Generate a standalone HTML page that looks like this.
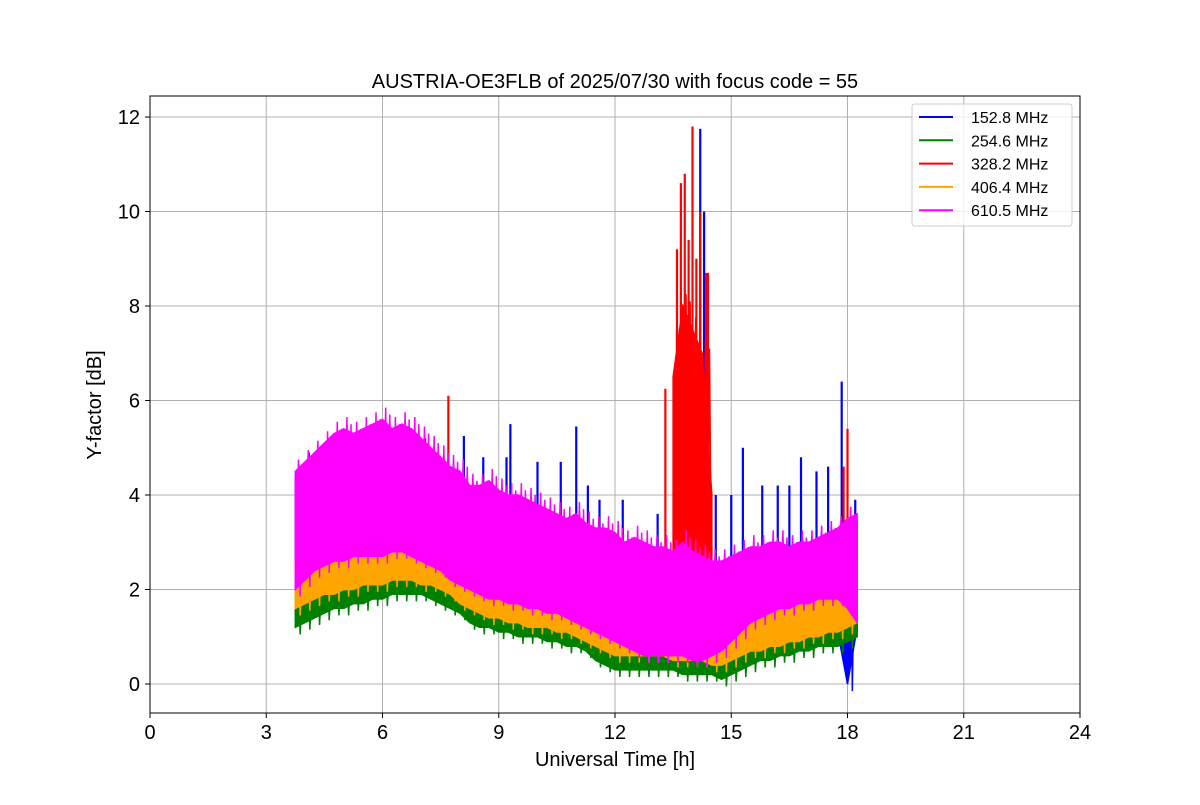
<!DOCTYPE html>
<html><head><meta charset="utf-8">
<style>
body{margin:0;background:#fff;}
svg text{font-family:"Liberation Sans","DejaVu Sans",sans-serif;}
</style></head>
<body>
<svg id="chart" width="1200" height="800" xmlns="http://www.w3.org/2000/svg">
<rect width="1200" height="800" fill="#fff"/>
<g id="grid"></g>
<g id="marks"></g>
<rect x="150" y="96" width="930" height="617" fill="none" stroke="#000" stroke-width="1"/>
<g id="axes"></g>
<text x="615" y="88" font-size="20" text-anchor="middle">AUSTRIA-OE3FLB of 2025/07/30 with focus code = 55</text>
<text x="615" y="766" font-size="20" text-anchor="middle">Universal Time [h]</text>
<text transform="translate(101,405) rotate(-90)" font-size="20" text-anchor="middle">Y-factor [dB]</text>
<g id="legend"></g>
</svg>
<script>
const xTicks=[0,3,6,9,12,15,18,21,24];
const yTicks=[0,2,4,6,8,10,12];
const t0=3.75, dt=0.25;
const seriesNames=["152.8 MHz","254.6 MHz","328.2 MHz","406.4 MHz","610.5 MHz"];
const seriesColors=["#0000ff","#008000","#ff0000","#ffa500","#ff00ff"];
const blueLo=[1.5,1.7,1.8,1.9,1.9,2.0,2.0,2.1,2.1,2.1,2.2,2.2,2.2,2.1,2.1,2.0,1.9,1.7,1.6,1.5,1.4,1.4,1.3,1.3,1.2,1.2,1.2,1.1,1.1,1.0,0.9,0.8,0.7,0.6,0.6,0.6,0.6,0.6,0.6,0.5,0.5,0.5,0.5,0.4,0.4,0.5,0.6,0.7,0.7,0.8,0.8,0.9,0.9,1.0,1.0,1.1,1.1,0.0,1.2];
const blueHi=[4.4,4.5,4.7,4.9,5.1,5.2,5.1,5.2,5.3,5.4,5.2,5.3,5.2,5.0,4.8,4.6,4.4,4.3,4.0,4.0,4.1,3.9,3.8,3.8,3.7,3.6,3.5,3.4,3.3,3.4,3.2,3.1,3.1,3.0,2.8,2.9,2.8,2.7,2.7,2.6,2.8,2.6,2.5,2.4,2.4,2.5,2.6,2.7,2.7,2.8,2.8,2.7,2.8,2.8,2.9,3.0,3.1,3.3,3.4];
const blueSpikeT=[4.1,7.1,8.1,8.6,9.2,9.3,10.0,10.6,11.0,11.3,11.6,12.2,13.1,13.6,13.8,14.2,14.3,14.6,15.0,15.3,15.8,16.2,16.5,16.8,17.2,17.5,17.85,18.2];
const blueSpikeV=[4.9,5.2,5.25,4.8,4.8,5.5,4.7,4.7,5.45,4.2,3.9,3.9,3.6,7.5,8.0,11.75,10.0,4.0,4.0,5.0,4.2,4.2,4.2,4.8,4.5,4.6,6.4,3.9];
const greenLo=[1.2,1.3,1.4,1.5,1.6,1.6,1.7,1.7,1.8,1.8,1.9,1.9,1.9,1.9,1.8,1.7,1.6,1.5,1.3,1.2,1.2,1.1,1.1,1.0,1.0,1.0,0.9,0.9,0.8,0.8,0.7,0.5,0.4,0.3,0.3,0.3,0.3,0.3,0.3,0.3,0.2,0.2,0.2,0.2,0.1,0.2,0.3,0.4,0.5,0.5,0.6,0.6,0.7,0.7,0.8,0.8,0.8,0.9,1.0];
const greenHi=[1.9,2.0,2.1,2.2,2.2,2.3,2.3,2.4,2.4,2.4,2.5,2.5,2.5,2.4,2.4,2.3,2.2,2.0,1.9,1.8,1.7,1.7,1.6,1.6,1.5,1.5,1.5,1.4,1.4,1.3,1.2,1.1,1.0,0.9,0.9,0.9,0.9,0.9,0.9,0.8,0.8,0.8,0.8,0.7,0.7,0.8,0.9,1.0,1.0,1.1,1.1,1.2,1.2,1.3,1.3,1.4,1.4,1.5,1.6];
const redLo=[null,null,null,null,null,null,null,null,null,null,null,null,null,null,null,null,null,null,null,null,null,null,null,null,null,null,null,null,null,null,null,null,null,null,null,null,null,null,null,1.0,0.8,0.8,0.9,1.2,null,null,null,null,null,null,null,null,null,null,null,null,null,null,null];
const redHi=[null,null,null,null,null,null,null,null,null,null,null,null,null,null,null,null,null,null,null,null,null,null,null,null,null,null,null,null,null,null,null,null,null,null,null,null,null,null,null,6.5,8.0,7.5,7.0,4.0,null,null,null,null,null,null,null,null,null,null,null,null,null,null,null];
const redSpikeT=[7.7,13.3,13.6,13.7,13.8,13.9,14.0,14.1,14.2,14.35,14.4,17.9,18.0];
const redSpikeV=[6.1,6.25,9.2,10.6,10.8,9.4,11.8,9.0,10.0,8.7,8.7,4.6,5.4];
const orangeLo=[1.6,1.7,1.8,1.9,1.9,2.0,2.0,2.1,2.1,2.1,2.2,2.2,2.2,2.1,2.1,2.0,1.9,1.7,1.6,1.5,1.4,1.4,1.3,1.3,1.2,1.2,1.2,1.1,1.1,1.0,0.9,0.8,0.7,0.6,0.6,0.6,0.6,0.6,0.6,0.5,0.5,0.5,0.5,0.4,0.4,0.5,0.6,0.7,0.7,0.8,0.8,0.9,0.9,1.0,1.0,1.1,1.1,1.2,1.3];
const orangeHi=[2.6,2.8,2.9,3.0,3.1,3.1,3.2,3.2,3.3,3.3,3.4,3.3,3.3,3.2,3.1,3.0,2.9,2.7,2.6,2.5,2.4,2.4,2.3,2.3,2.2,2.2,2.2,2.1,2.1,2.0,2.0,1.9,1.8,1.7,1.7,1.7,1.6,1.6,1.6,1.6,1.5,1.5,1.5,1.5,1.5,1.6,1.7,1.9,2.0,2.1,2.1,2.2,2.2,2.3,2.3,2.4,2.5,2.5,2.6];
const magentaLo=[2.0,2.2,2.4,2.5,2.6,2.6,2.7,2.7,2.7,2.7,2.8,2.8,2.7,2.6,2.5,2.4,2.2,2.1,2.0,1.9,1.8,1.8,1.7,1.7,1.6,1.6,1.5,1.5,1.4,1.3,1.2,1.1,1.0,0.9,0.8,0.7,0.6,0.6,0.6,0.6,0.6,0.5,0.5,0.6,0.7,0.9,1.1,1.3,1.4,1.5,1.6,1.6,1.7,1.7,1.8,1.8,1.8,1.6,1.3];
const magentaHi=[4.5,4.7,4.9,5.1,5.3,5.4,5.3,5.4,5.5,5.6,5.4,5.5,5.4,5.2,5.0,4.8,4.6,4.5,4.2,4.2,4.3,4.1,4.0,4.0,3.9,3.8,3.7,3.6,3.5,3.6,3.4,3.3,3.3,3.2,3.0,3.1,3.0,2.9,2.9,2.8,3.0,2.8,2.7,2.6,2.6,2.7,2.8,2.9,2.9,3.0,3.0,2.9,3.0,3.0,3.1,3.2,3.3,3.5,3.6];

const X=h=>150+h*(930/24);
const Y=v=>684-v*47.25;
const NS="http://www.w3.org/2000/svg";
function mk(tag,attrs,parent){const e=document.createElementNS(NS,tag);for(const k in attrs)e.setAttribute(k,attrs[k]);parent.appendChild(e);return e;}
const grid=document.getElementById('grid'),marks=document.getElementById('marks'),axes=document.getElementById('axes'),legend=document.getElementById('legend');

xTicks.forEach(t=>{
  const g=mk('line',{x1:X(t),x2:X(t),y1:96,y2:713,stroke:'#b0b0b0','stroke-width':1},grid);
  
  
  const tk=mk('line',{x1:X(t),x2:X(t),y1:713,y2:718,stroke:'#000'},axes);
  
  
  const tx=mk('text',{x:X(t),y:739,'font-size':20,'text-anchor':'middle'},axes);
  tx.textContent=t;
  
  
});
yTicks.forEach(v=>{
  const g=mk('line',{x1:150,x2:1080,y1:Y(v),y2:Y(v),stroke:'#b0b0b0','stroke-width':1},grid);
  
  
  const tk=mk('line',{x1:145,x2:150,y1:Y(v),y2:Y(v),stroke:'#000'},axes);
  
  
  const tx=mk('text',{x:140,y:Y(v)+7,'font-size':20,'text-anchor':'end'},axes);
  tx.textContent=v;
  
  
});

function band(lo,hi,color,name){
  const g=mk('g',{},marks);
  
  
  let seg=[];const segs=[];
  lo.forEach((l,i)=>{if(l==null||hi[i]==null){if(seg.length)segs.push(seg);seg=[];}else seg.push(i);});
  if(seg.length)segs.push(seg);
  segs.forEach(s=>{
    const top=s.map(i=>X(t0+i*dt)+','+Y(hi[i]));
    const bot=s.slice().reverse().map(i=>X(t0+i*dt)+','+Y(lo[i]));
    mk('polygon',{points:top.concat(bot).join(' '),fill:color,stroke:color,'stroke-width':1.5},g);
    const z=[];
    s.forEach((i,k)=>{const t=t0+i*dt;z.push(X(t)+','+Y(lo[i]));
      if(k<s.length-1){z.push(X(t+dt/3)+','+Y(hi[i]+0.25));z.push(X(t+dt*0.5)+','+Y(lo[i]-0.15));z.push(X(t+dt*0.75)+','+Y(hi[i]+0.1));}});
    mk('polyline',{points:z.join(' '),fill:'none',stroke:color,'stroke-width':1.5},g);
  });
}
function spikes(ts,vs,color,name){
  ts.forEach((t,i)=>{
    const l=mk('line',{x1:X(t),x2:X(t),y1:Y(2),y2:Y(vs[i]),stroke:color,'stroke-width':2.2},marks);
    
    
  });
}
band(blueLo,blueHi,seriesColors[0],'series-152-8-mhz');
spikes(blueSpikeT,blueSpikeV,seriesColors[0],'spike-152-8-mhz');
band(greenLo,greenHi,seriesColors[1],'series-254-6-mhz');
band(redLo,redHi,seriesColors[2],'series-328-2-mhz');
spikes(redSpikeT,redSpikeV,seriesColors[2],'spike-328-2-mhz');
band(orangeLo,orangeHi,seriesColors[3],'series-406-4-mhz');
band(magentaLo,magentaHi,seriesColors[4],'series-610-5-mhz');

const lb=mk('rect',{x:912,y:104,width:160,height:122,rx:3,fill:'#fff','fill-opacity':0.8,stroke:'#ccc'},legend);


seriesNames.forEach((n,i)=>{
  const y=117+i*23.3;
  const g=mk('g',{},legend);
  
  
  mk('line',{x1:919,x2:953,y1:y,y2:y,stroke:seriesColors[i],'stroke-width':2},g);
  const tx=mk('text',{x:971,y:y+6,'font-size':16},g);
  tx.textContent=n;
});
</script>
</body></html>
